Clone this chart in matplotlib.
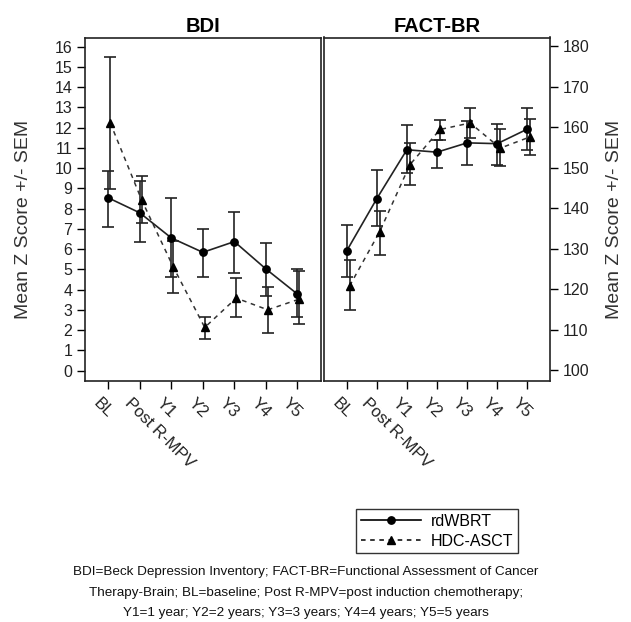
import matplotlib
matplotlib.use("Agg")
import matplotlib.pyplot as plt
from matplotlib.lines import Line2D
from matplotlib.transforms import ScaledTranslation

plt.rcParams['font.family'] = ['Liberation Sans', 'DejaVu Sans']

timepoints = ["BL", "Post R-MPV", "Y1", "Y2", "Y3", "Y4", "Y5"]

# BDI (left panel)
bdi_rd_mean = [8.53, 7.79, 6.55, 5.84, 6.37, 5.02, 3.78]
bdi_rd_lo = [7.08, 6.35, 4.62, 4.62, 4.82, 3.66, 2.64]
bdi_rd_hi = [9.88, 9.36, 8.50, 7.01, 7.85, 6.30, 5.00]
bdi_hdc_mean = [12.24, 8.42, 5.12, 2.13, 3.58, 3.00, 3.53]
bdi_hdc_lo = [8.98, 7.29, 3.85, 1.57, 2.64, 1.88, 2.30]
bdi_hdc_hi = [15.51, 9.60, 6.40, 2.64, 4.55, 4.11, 4.90]

# FACT-BR (right panel)
fact_rd_mean = [129.4, 142.3, 154.4, 153.8, 156.1, 155.9, 159.5]
fact_rd_lo = [122.9, 135.5, 148.7, 149.9, 150.7, 150.7, 154.4]
fact_rd_hi = [135.9, 149.5, 160.5, 156.7, 161.5, 160.8, 164.6]
fact_hdc_mean = [120.8, 134.2, 150.7, 159.4, 161.0, 154.8, 157.6]
fact_hdc_lo = [114.8, 128.5, 145.6, 156.7, 157.3, 150.3, 153.0]
fact_hdc_hi = [127.2, 139.4, 156.1, 161.7, 164.6, 159.6, 162.0]

series_labels = ["rdWBRT", "HDC-ASCT"]

fig = plt.figure(figsize=(6.31, 6.22), dpi=100)
W, H = 631, 622
def pos(x0, y0, x1, y1):
    return [x0 / W, 1 - y1 / H, (x1 - x0) / W, (y1 - y0) / H]

axL = fig.add_axes(pos(85, 37.5, 321, 380.7))
axR = fig.add_axes(pos(324, 37.5, 550, 380.7))

def draw(ax, rd, rdlo, rdhi, hd, hdlo, hdhi, off_rd, off_hd):
    x = list(range(len(timepoints)))
    xr = [v + off_rd for v in x]
    xh = [v + off_hd for v in x]
    ax.errorbar(xh, hd, yerr=[[m - l for m, l in zip(hd, hdlo)], [h - m for m, h in zip(hd, hdhi)]],
                fmt='none', ecolor='#222222', elinewidth=1.2, capsize=4.3, capthick=1.2, zorder=2)
    ax.errorbar(xr, rd, yerr=[[m - l for m, l in zip(rd, rdlo)], [h - m for m, h in zip(rd, rdhi)]],
                fmt='none', ecolor='#222222', elinewidth=1.2, capsize=4.3, capthick=1.2, zorder=2)
    ax.plot(xh, hd, linestyle=(0, (3, 3)), color='#333333', lw=1.1, marker='^',
            markersize=6, markerfacecolor='black', markeredgecolor='black', zorder=3)
    ax.plot(xr, rd, linestyle='-', color='#222222', lw=1.2, marker='o',
            markersize=5.3, markerfacecolor='black', markeredgecolor='black', zorder=3)
    ax.set_xticks(x)
    ax.set_xticklabels(timepoints, rotation=-45, ha='left', va='top',
                       rotation_mode='anchor', fontsize=12, color='#222222')
    ax.tick_params(axis='x', length=6, width=1, direction='out', pad=4.5)
    shift = ScaledTranslation(-5 / 72, 0, fig.dpi_scale_trans)
    for lab in ax.get_xticklabels():
        lab.set_transform(lab.get_transform() + shift)
    for s in ax.spines.values():
        s.set_linewidth(1.2)
        s.set_color('#222222')

draw(axL, bdi_rd_mean, bdi_rd_lo, bdi_rd_hi, bdi_hdc_mean, bdi_hdc_lo, bdi_hdc_hi, 0.0, 0.06)
axL.set_xlim(-0.74, 6.75)
axL.set_ylim(-0.5, 16.45)
axL.set_yticks(range(0, 17))
axL.tick_params(axis='y', labelsize=11.5, length=6, width=1, pad=3, labelcolor='#222222')
axL.set_title("BDI", fontsize=14.5, fontweight='bold', pad=4)
axL.set_ylabel("Mean Z Score +/- SEM", fontsize=14, color='#333333')
axL.yaxis.set_label_coords(-0.225, 0.47)

draw(axR, fact_rd_mean, fact_rd_lo, fact_rd_hi, fact_hdc_mean, fact_hdc_lo, fact_hdc_hi, 0.0, 0.1)
axR.set_xlim(-0.75, 6.75)
axR.set_ylim(97.4, 182.1)
axR.set_yticks(range(100, 181, 10))
axR.yaxis.tick_right()
axR.yaxis.set_label_position('right')
axR.tick_params(axis='y', labelsize=11.5, length=6, width=1, pad=3, labelcolor='#222222')
axR.set_title("FACT-BR", fontsize=14.5, fontweight='bold', pad=4)
axR.set_ylabel("Mean Z Score +/- SEM", fontsize=14, color='#333333')
axR.yaxis.set_label_coords(1.25, 0.47)

handles = [
    Line2D([], [], color='black', lw=1.2, marker='o', markersize=5.3),
    Line2D([], [], color='black', lw=1.1, linestyle=(0, (3, 3)), marker='^', markersize=6),
]
leg = fig.legend(handles, series_labels, loc='upper left', bbox_to_anchor=(356 / W, 1 - 509 / H),
                 frameon=True, fancybox=False, edgecolor='black', fontsize=11.5,
                 handlelength=3.8, borderpad=0.3, labelspacing=0.3, handletextpad=0.6,
                 borderaxespad=0)
leg.get_frame().set_linewidth(1.0)

caption = ("BDI=Beck Depression Inventory; FACT-BR=Functional Assessment of Cancer\n"
           "Therapy-Brain; BL=baseline; Post R-MPV=post induction chemotherapy;\n"
           "Y1=1 year; Y2=2 years; Y3=3 years; Y4=4 years; Y5=5 years")
fig.text(306 / W, 1 - 566 / H, caption, ha='center', va='top', fontsize=9.7,
         linespacing=1.95, color='#111111')

fig.savefig("out.png", dpi=100)
